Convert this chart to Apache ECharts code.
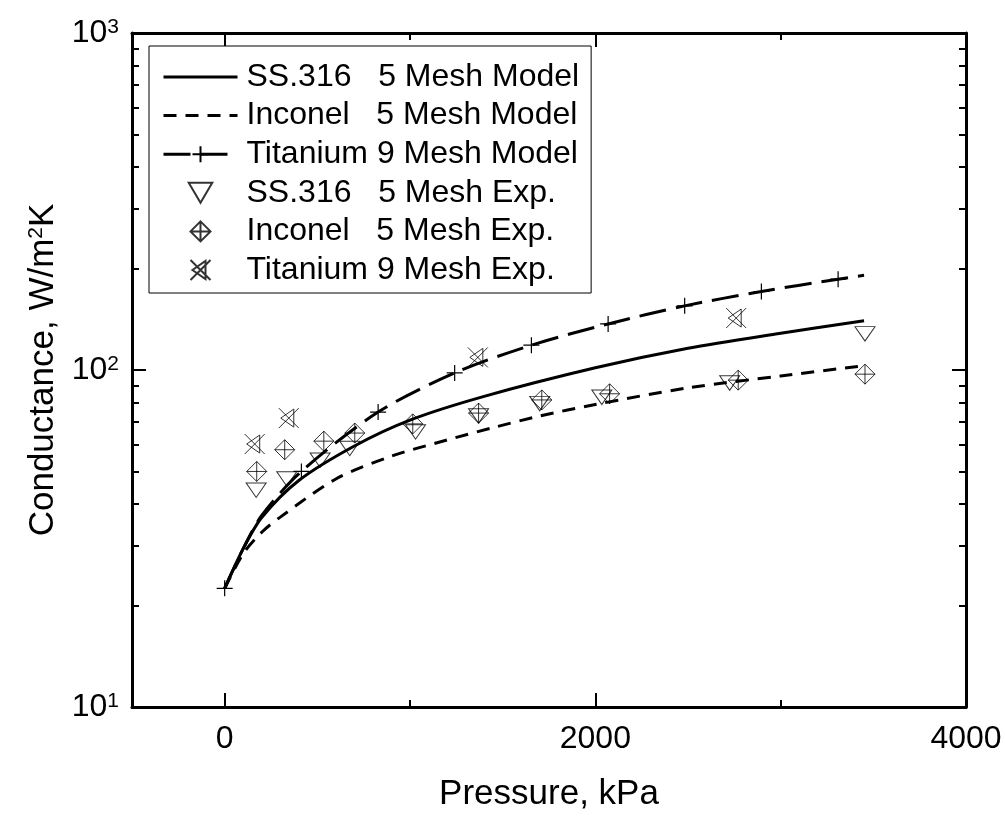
<!DOCTYPE html>
<html>
<head>
<meta charset="utf-8">
<script src="https://cdn.jsdelivr.net/npm/echarts@6/dist/echarts.min.js"></script>
<style>
  html, body { margin: 0; padding: 0; background: #fff; }
  #chart { width: 1005px; height: 825px; }
</style>
</head>
<body>
<div id="chart"></div>
<script>
// model curves (pressure kPa, conductance W/m2K)
var ssModelP = [0, 100, 200, 400, 700, 1000, 1400, 2000, 2500, 3000, 3450];
var ssModelC = [22.5, 29.5, 36.5, 47, 59.5, 71, 83.5, 101.5, 116, 128.5, 140];
var inconelModelP = [0, 100, 200, 300, 600, 900, 1200, 1450, 1700, 2000, 2500, 3000, 3450];
var inconelModelC = [22.5, 28.5, 33, 36.6, 47.5, 55.5, 62, 67.5, 73, 79, 88.5, 96, 103];
var tiModelP = [0, 100, 200, 414, 828, 1241, 1655, 2069, 2482, 2896, 3310, 3450];
var tiModelC = [22.5, 29.5, 37, 50, 75, 98, 118.5, 137, 155, 171, 186, 191];
var tiModelMarked = [0, 3, 4, 5, 6, 7, 8, 9, 10];

// experiments
var ssExpP = [170, 335, 515, 675, 1030, 1370, 1700, 2035, 2725, 3455];
var ssExpC = [44, 47.5, 54, 58.5, 65.5, 73, 79.5, 83, 91.5, 128];
var inconelExpP = [173, 324, 535, 702, 1015, 1370, 1711, 2077, 2771, 3455];
var inconelExpC = [50, 58, 61.5, 65, 69.2, 74.5, 81.5, 85, 93.3, 97.2];
var tiExpP = [162, 346, 1366, 2760];
var tiExpC = [60.3, 72, 109, 142.6];

var xMajor = [0, 2000, 4000];
var xMinor = [1000, 3000];
var yMajor = [10, 100, 1000];
var yMinor = [20, 30, 40, 50, 60, 70, 80, 90, 200, 300, 400, 500, 600, 700, 800, 900];

var FONT = 'Liberation Sans, Arial, sans-serif';

var plusPath = 'path://M8,0L8,16M0,8L16,8';
var triPath = 'path://M0,0L20,0L10,17Z';
var diamondPath = 'path://M10,0L20,10L10,20L0,10ZM10,0L10,20M0,10L20,10';
var xPath = 'path://M0,0L20,20M0,20L20,0M15,1L15,19L2,10Z';
var blankPath = 'path://M0,0L1,1';

function pairs (xs, ys) {
  return xs.map(function (x, i) { return [x, ys[i]] })
}

var chart = echarts.init(document.getElementById('chart'))

function xAxisDef (pos, ticks, len, showLine, showLabel) {
  return {
    type: 'value',
    min: -500,
    max: 4000,
    position: pos,
    axisLine: { show: showLine, onZero: false, lineStyle: { color: '#000', width: 3 } },
    axisTick: { show: true, inside: true, length: len, customValues: ticks, lineStyle: { color: '#000', width: 2 } },
    axisLabel: showLabel ? {
      customValues: ticks,
      margin: 16,
      color: '#000',
      fontSize: 32,
      fontFamily: FONT,
      formatter: function (v) { return String(v) }
    } : { show: false },
    splitLine: { show: false }
  }
}

function yAxisDef (pos, ticks, len, showLine, showLabel) {
  return {
    type: 'log',
    logBase: 10,
    min: 10,
    max: 1000,
    position: pos,
    axisLine: { show: showLine, onZero: false, lineStyle: { color: '#000', width: 3 } },
    axisTick: { show: true, inside: true, length: len, customValues: ticks, lineStyle: { color: '#000', width: 2 } },
    axisLabel: showLabel ? {
      customValues: ticks,
      margin: 13,
      color: '#000',
      fontFamily: FONT,
      formatter: function (v) {
        return '{b|10}{s|' + Math.round(Math.log10(v)) + '}'
      },
      rich: {
        b: { fontSize: 32, lineHeight: 32, fontFamily: FONT, color: '#000' },
        s: { fontSize: 21, lineHeight: 21, verticalAlign: 'top', fontFamily: FONT, color: '#000' }
      }
    } : { show: false },
    splitLine: { show: false }
  }
}

var xAxes = [
  xAxisDef('bottom', xMajor, 14, true, true),
  xAxisDef('bottom', xMinor, 7, false, false),
  xAxisDef('top', xMajor, 14, true, false),
  xAxisDef('top', xMinor, 7, false, false)
]
xAxes[0].name = 'Pressure, kPa'
xAxes[0].nameLocation = 'middle'
xAxes[0].nameGap = 70
xAxes[0].nameTextStyle = { fontSize: 35, color: '#000', fontFamily: FONT }

var yAxes = [
  yAxisDef('left', yMajor, 14, true, true),
  yAxisDef('left', yMinor, 7, false, false),
  yAxisDef('right', yMajor, 14, true, false),
  yAxisDef('right', yMinor, 7, false, false)
]
yAxes[0].name = 'Conductance, W/m{s|2}K'
yAxes[0].nameLocation = 'middle'
yAxes[0].nameGap = 65
yAxes[0].nameRotate = 90
yAxes[0].nameTextStyle = {
  fontSize: 35, color: '#000', fontFamily: FONT,
  rich: { s: { fontSize: 21, verticalAlign: 'top', lineHeight: 21, fontFamily: FONT, color: '#000' } }
}

var tiModelData = pairs(tiModelP, tiModelC).map(function (d, i) {
  if (tiModelMarked.indexOf(i) >= 0) return { value: d }
  return { value: d, symbol: 'none' }
})

var options = {
  animation: false,
  backgroundColor: '#fff',
  grid: { left: 132, right: 39, top: 33, bottom: 118, containLabel: false },
  legend: {
    left: 149,
    top: 46,
    orient: 'vertical',
    selectedMode: false,
    backgroundColor: '#fff',
    borderColor: '#000',
    borderWidth: 1,
    borderRadius: 0,
    padding: [15, 12, 7, 13],
    itemWidth: 74,
    itemHeight: 20,
    itemGap: 6.6,
    lineStyle: { width: 3 },
    textStyle: { fontSize: 32, lineHeight: 32, color: '#000', fontFamily: FONT, padding: [0, 0, 0, 4] },
    data: [
      'SS.316   5 Mesh Model', 'Inconel   5 Mesh Model', 'Titanium 9 Mesh Model',
      'SS.316   5 Mesh Exp.', 'Inconel   5 Mesh Exp.', 'Titanium 9 Mesh Exp.'
    ]
  },
  xAxis: xAxes,
  yAxis: yAxes,
  series: [
    {
      name: 'SS.316   5 Mesh Model',
      type: 'line',
      smooth: 0.3,
      symbol: blankPath,
      showSymbol: false,
      data: pairs(ssModelP, ssModelC),
      lineStyle: { color: '#000', width: 3 },
      itemStyle: { color: 'rgba(0,0,0,0)', borderWidth: 0 }
    },
    {
      name: 'Inconel   5 Mesh Model',
      type: 'line',
      smooth: 0.3,
      symbol: blankPath,
      showSymbol: false,
      data: pairs(inconelModelP, inconelModelC),
      lineStyle: { color: '#000', width: 3, type: [13, 9] },
      itemStyle: { color: 'rgba(0,0,0,0)', borderWidth: 0 }
    },
    {
      name: 'Titanium 9 Mesh Model',
      type: 'line',
      smooth: 0.3,
      symbol: plusPath,
      symbolSize: 16,
      showAllSymbol: true,
      data: tiModelData,
      lineStyle: { color: '#000', width: 3, type: [27, 10] },
      itemStyle: { color: '#000', borderColor: '#000', borderWidth: 1.2 }
    },
    {
      name: 'SS.316   5 Mesh Exp.',
      type: 'scatter',
      symbol: triPath,
      symbolSize: [20, 17],
      symbolKeepAspect: true,
      data: pairs(ssExpP, ssExpC),
      itemStyle: { color: 'rgba(0,0,0,0)', borderColor: '#000', borderWidth: 1 }
    },
    {
      name: 'Inconel   5 Mesh Exp.',
      type: 'scatter',
      symbol: diamondPath,
      symbolSize: 20,
      symbolKeepAspect: true,
      data: pairs(inconelExpP, inconelExpC),
      itemStyle: { color: 'rgba(0,0,0,0)', borderColor: '#000', borderWidth: 1 }
    },
    {
      name: 'Titanium 9 Mesh Exp.',
      type: 'scatter',
      symbol: xPath,
      symbolSize: 20,
      symbolKeepAspect: true,
      data: pairs(tiExpP, tiExpC),
      itemStyle: { color: 'rgba(0,0,0,0)', borderColor: '#000', borderWidth: 1 }
    }
  ]
}
chart.setOption(options)
</script>
</body>
</html>
